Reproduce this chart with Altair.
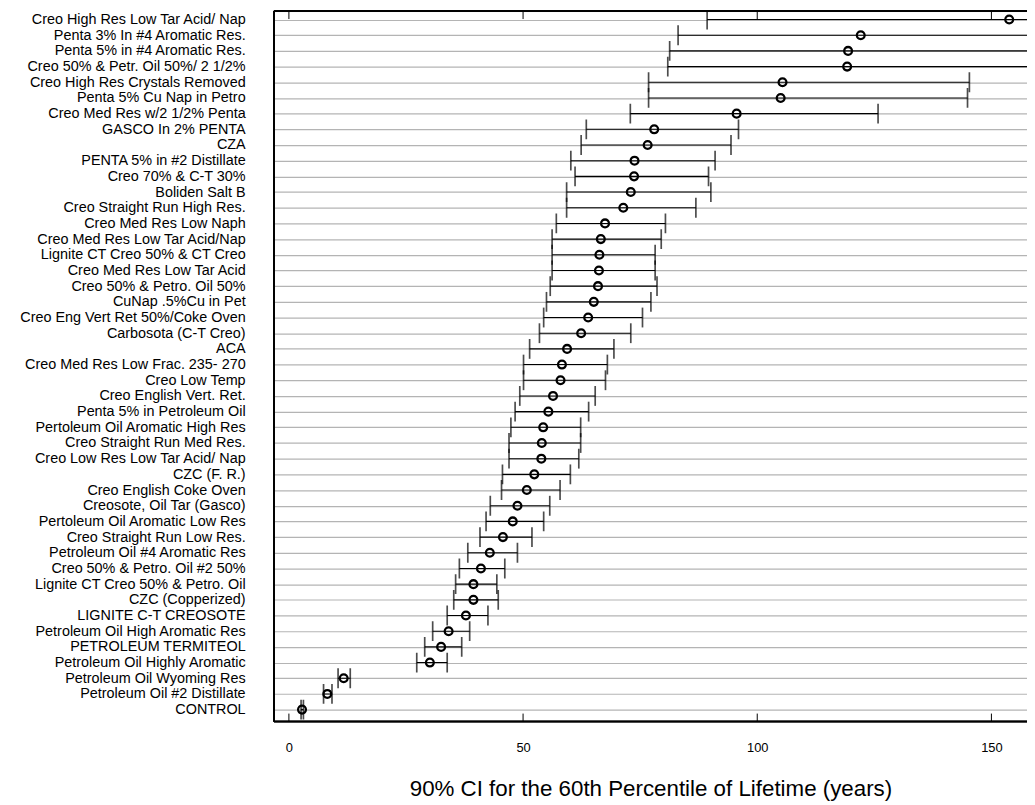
import altair as alt
import pandas as pd

names = [
    "Creo High Res Low Tar Acid/ Nap",
    "Penta 3% In #4 Aromatic Res.",
    "Penta 5% in #4 Aromatic Res.",
    "Creo 50% & Petr. Oil 50%/ 2 1/2%",
    "Creo High Res Crystals Removed",
    "Penta 5% Cu Nap in Petro",
    "Creo Med Res w/2 1/2% Penta",
    "GASCO In 2% PENTA",
    "CZA",
    "PENTA 5% in #2 Distillate",
    "Creo 70%  & C-T 30%",
    "Boliden Salt B",
    "Creo Straight Run High Res.",
    "Creo Med Res Low Naph",
    "Creo Med Res Low Tar Acid/Nap",
    "Lignite CT Creo 50% & CT Creo",
    "Creo Med Res Low Tar Acid",
    "Creo 50% & Petro. Oil 50%",
    "CuNap .5%Cu  in Pet",
    "Creo Eng Vert Ret 50%/Coke Oven",
    "Carbosota (C-T Creo)",
    "ACA",
    "Creo Med Res Low Frac. 235- 270",
    "Creo Low Temp",
    "Creo English Vert. Ret.",
    "Penta 5% in Petroleum Oil",
    "Pertoleum Oil Aromatic High Res",
    "Creo Straight Run Med Res.",
    "Creo Low Res Low Tar Acid/ Nap",
    "CZC (F. R.)",
    "Creo English Coke Oven",
    "Creosote, Oil Tar (Gasco)",
    "Pertoleum Oil Aromatic Low Res",
    "Creo Straight Run Low Res.",
    "Petroleum Oil #4 Aromatic Res",
    "Creo 50% & Petro. Oil #2 50%",
    "Lignite CT Creo 50% & Petro. Oil",
    "CZC (Copperized)",
    "LIGNITE C-T CREOSOTE",
    "Petroleum Oil High Aromatic Res",
    "PETROLEUM TERMITEOL",
    "Petroleum Oil Highly Aromatic",
    "Petroleum Oil Wyoming Res",
    "Petroleum Oil #2 Distillate",
    "CONTROL",
]

low = [89.3, 83.1, 81.3, 80.9, 76.8, 76.8, 72.9, 63.5, 62.4, 60.2,
       61.1, 59.3, 59.3, 57.1, 56.2, 56.2, 56.2, 55.8, 55.0, 54.4,
       53.5, 51.4, 50.1, 50.1, 49.3, 48.3, 47.4, 47.0, 47.0, 45.6,
       45.4, 43.0, 42.1, 40.8, 38.2, 36.4, 35.6, 35.2, 33.8, 30.7,
       29.0, 27.3, 10.5, 7.4, 2.6]

est = [153.8, 122.1, 119.4, 119.2, 105.4, 105.0, 95.6, 78.0, 76.6, 73.8,
       73.7, 73.0, 71.4, 67.5, 66.6, 66.3, 66.2, 66.0, 65.1, 63.9,
       62.4, 59.4, 58.3, 58.0, 56.4, 55.4, 54.3, 54.0, 53.9, 52.4,
       50.8, 48.8, 47.8, 45.7, 42.9, 41.0, 39.4, 39.4, 37.8, 34.1,
       32.5, 30.1, 11.7, 8.2, 2.8]

high = [175.0, 172.0, 168.0, 168.0, 145.3, 144.9, 125.8, 96.0, 94.4, 91.0,
        89.6, 90.1, 86.9, 80.4, 79.5, 78.2, 78.2, 78.6, 77.3, 75.5,
        73.0, 69.4, 68.0, 67.6, 65.4, 64.0, 62.3, 62.3, 61.9, 60.1,
        57.9, 55.7, 54.4, 51.9, 48.8, 46.1, 44.4, 44.7, 42.5, 38.6,
        36.9, 33.8, 13.1, 9.2, 3.1]

tick_values = [0, 50, 100, 150]

W = 759
H = 716
FONT = "Liberation Sans"

df = pd.DataFrame({"name": names, "low": low, "est": est, "high": high})
ticks_df = pd.DataFrame({"t": tick_values})

xscale = alt.Scale(domain=[-3.2, 157.6], nice=False, zero=False)
xaxis = alt.Axis(
    values=tick_values, ticks=False, domain=False, grid=False,
    labelFontSize=13, labelFont=FONT, labelColor="black", labelPadding=20,
    title="90% CI for the 60th Percentile of Lifetime (years)",
    titleFontSize=22.5, titleFont=FONT, titleFontWeight="normal",
    titleColor="black", titlePadding=24,
)
yscale = alt.Scale(type="point", range=[8.5, 704], padding=0)
yaxis = alt.Axis(
    title=None, ticks=False, domain=False, grid=True,
    gridColor="#b4b4b4", gridWidth=1.2, gridOpacity=1,
    labelFontSize=14.5, labelFont=FONT, labelColor="black",
    labelPadding=29, labelLimit=400,
)

base = alt.Chart(df)

Y = alt.Y("name:N", sort=names, scale=yscale, axis=yaxis)

lines = base.mark_rule(color="black", strokeWidth=1.1, clip=True).encode(
    x=alt.X("low:Q", scale=xscale, axis=xaxis),
    x2="high:Q",
    y=Y,
)
lo_ticks = base.mark_tick(color="black", thickness=1.7, size=20, clip=True).encode(
    x=alt.X("low:Q", scale=xscale, axis=xaxis),
    y=Y,
)
hi_ticks = base.mark_tick(color="black", thickness=1.7, size=20, clip=True).encode(
    x=alt.X("high:Q", scale=xscale, axis=xaxis),
    y=Y,
)
points = base.mark_point(
    shape="circle", filled=False, color="black", strokeWidth=2.3, size=62,
    opacity=1, clip=True,
).encode(
    x=alt.X("est:Q", scale=xscale, axis=xaxis),
    y=Y,
)

tick_top = alt.Chart(ticks_df).mark_rule(color="black", strokeWidth=1).encode(
    x=alt.X("t:Q", scale=xscale, axis=xaxis),
    y=alt.value(0), y2=alt.value(8),
)
tick_bot = alt.Chart(ticks_df).mark_rule(color="black", strokeWidth=1).encode(
    x=alt.X("t:Q", scale=xscale, axis=xaxis),
    y=alt.value(H - 8), y2=alt.value(H),
)

border_top = alt.Chart(ticks_df).mark_rule(color="black", strokeWidth=1.6).encode(
    x=alt.value(0), x2=alt.value(W), y=alt.value(0)
)
border_bot = alt.Chart(ticks_df).mark_rule(color="black", strokeWidth=1.6).encode(
    x=alt.value(0), x2=alt.value(W), y=alt.value(H)
)
border_left = alt.Chart(ticks_df).mark_rule(color="black", strokeWidth=1.6).encode(
    x=alt.value(0), y=alt.value(0), y2=alt.value(H)
)

chart = alt.layer(
    lines, lo_ticks, hi_ticks, points, tick_top, tick_bot,
    border_top, border_bot, border_left,
).properties(
    width=W, height=H,
    autosize=alt.AutoSizeParams(type="none"),
    padding={"left": 268, "top": 0, "right": 0, "bottom": 80},
).configure_view(
    stroke=None
).configure(
    background="white"
)

chart.save("out.html", embed_options={"renderer": "svg", "actions": False})
